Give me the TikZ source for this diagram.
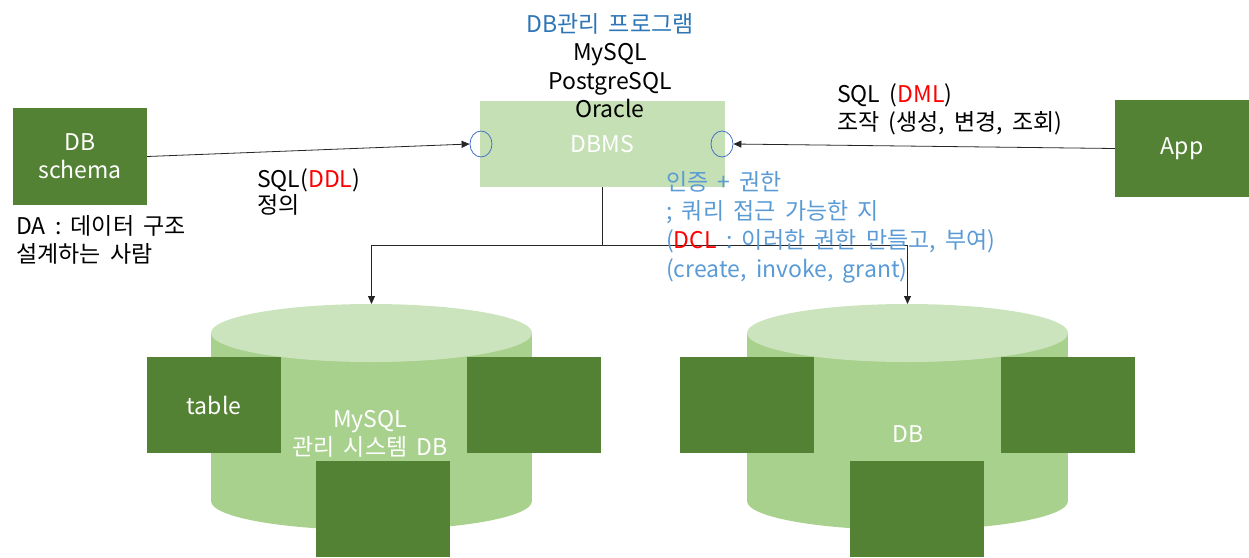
\documentclass[tikz,border=0pt]{standalone}
\usepackage{fontspec}
\setmainfont{Noto Sans CJK KR}[WordSpace=1.8]
\usetikzlibrary{arrows.meta,shapes.geometric}
\definecolor{dkgreen}{HTML}{548235}
\definecolor{ltgreen}{HTML}{C5E0B4}
\definecolor{cylbody}{HTML}{A9D18E}
\definecolor{cyltop}{HTML}{CCE4BE}
\definecolor{titleblue}{HTML}{2E75B6}
\definecolor{noteblue}{HTML}{5B9BD5}
\definecolor{ringblue}{HTML}{4472C4}
\definecolor{sqlred}{HTML}{FF0000}
\begin{document}
\begin{tikzpicture}[x=1pt,y=-1pt,
  every node/.style={font=\fontsize{23}{28}\selectfont},
  darkbox/.style={rectangle, fill=dkgreen, text=white, minimum width=134pt, minimum height=96pt, inner sep=0pt, align=center},
  ring/.style={ellipse, draw=ringblue, line width=0.8pt, minimum width=22pt, minimum height=26pt, inner sep=0pt},
  lw/.style={anchor=base west, inner sep=0pt},
  lc/.style={anchor=base, inner sep=0pt},
  conn/.style={draw=black!85, line width=0.8pt, -{Triangle[length=8pt,width=7pt]}},
  cylell/.style={ellipse, minimum width=321pt, minimum height=58pt, inner sep=0pt, outer sep=0pt},
  cyllabel/.style={text=white, align=center, inner sep=0pt}
]
\useasboundingbox (0,0) rectangle (1249,557);

% ---- DBMS box and labels
\node[rectangle, fill=ltgreen, minimum width=245pt, minimum height=86pt, inner sep=0pt, text=white] (dbms) at (602.5,144) {DBMS};
\node[lc, text=titleblue] (t1) at (610,32) {DB관리 프로그램};
\node[lc] (t2) at (610,60) {MySQL};
\node[lc] (t3) at (610,89) {PostgreSQL};
\node[lc] (t4) at (610,117) {Oracle};
\node[ring] (eL) at (481,144) {};
\node[ring] (eR) at (722,144) {};

% ---- side boxes
\node[darkbox, minimum height=97pt] (schema) at (80,156.5) {DB\\schema};
\node[darkbox, minimum height=97pt] (app) at (1182,148.5) {App};

\node[lw] (da1) at (16,234) {DA : 데이터 구조};
\node[lw] (da2) at (16,262) {설계하는 사람};
\node[lw] (ddl1) at (257,187) {SQL(\textcolor{sqlred}{DDL})};
\node[lw] (ddl2) at (257,213) {정의};
\node[lw] (dml1) at (837,102) {SQL (\textcolor{sqlred}{DML})};
\node[lw] (dml2) at (837,130) {조작 (생성, 변경, 조회)};

% ---- left cylinder
\node[cylell, fill=cylbody] (botL) at (371.5,501) {};
\fill[cylbody] (211,333) rectangle (532,501);
\node[cylell, fill=cyltop] (topL) at (371.5,333) {};
\node[cyllabel] (labL) at (370,434) {MySQL\\관리 시스템 DB};
\node[darkbox] (tbl) at (214,405) {table};
\node[darkbox] (bL2) at (534,405) {};
\node[darkbox] (bL3) at (383,509) {};

% ---- right cylinder
\node[cylell, fill=cylbody] (botR) at (907.5,501) {};
\fill[cylbody] (747,333) rectangle (1068,501);
\node[cylell, fill=cyltop] (topR) at (907.5,333) {};
\node[cyllabel] (labR) at (908,434) {DB};
\node[darkbox] (bR1) at (747,405) {};
\node[darkbox] (bR2) at (1068,405) {};
\node[darkbox] (bR3) at (917,509) {};

% ---- connectors
\draw[conn] (schema.east) -- (eL.west);
\draw[conn] (app.west) -- (eR.east);
\draw[conn] (dbms.south) -- ++(0,58) -| (topL.north);
\draw[conn] (dbms.south) -- ++(0,58) -| (topR.north);

% ---- blue note (on top)
\node[lw, text=noteblue] (n1) at (666,190) {인증 + 권한};
\node[lw, text=noteblue] (n2) at (666,219) {; 쿼리 접근 가능한 지};
\node[lw, text=noteblue] (n3) at (666,248) {(\textcolor{sqlred}{DCL} : 이러한 권한 만들고, 부여)};
\node[lw, text=noteblue] (n4) at (666,277) {(create, invoke, grant)};
\end{tikzpicture}
\end{document}
